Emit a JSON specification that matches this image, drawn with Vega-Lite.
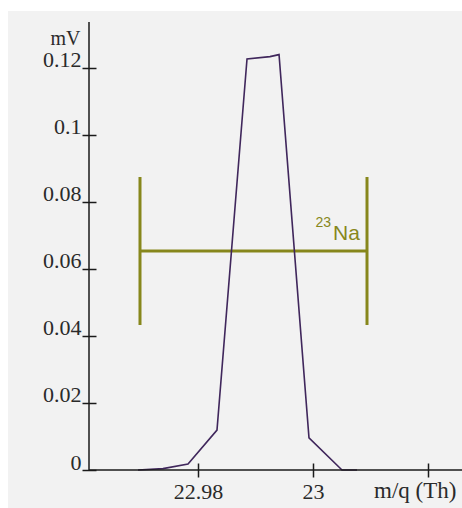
{
  "$schema": "https://vega.github.io/schema/vega-lite/v6.json",
  "width": 373,
  "height": 448,
  "autosize": "none",
  "padding": {"left": 89, "top": 22, "right": 0, "bottom": 38},
  "background": "white",
  "config": {
    "view": {"stroke": null},
    "font": "Liberation Serif"
  },
  "data": {"values": [{"panel": "frame"}]},
  "datasets": {
    "spectrum": [
      {"mq": 22.96957, "mV": 0.0000},
      {"mq": 22.97391, "mV": 0.0004},
      {"mq": 22.97826, "mV": 0.0018},
      {"mq": 22.98330, "mV": 0.0119},
      {"mq": 22.98852, "mV": 0.1227},
      {"mq": 22.99252, "mV": 0.1234},
      {"mq": 22.99409, "mV": 0.1240},
      {"mq": 22.99930, "mV": 0.0096},
      {"mq": 23.00504, "mV": 0.0000},
      {"mq": 23.00765, "mV": 0.0000}
    ],
    "window": [
      {"isotope": "23Na", "lo": 22.96991, "hi": 23.00939, "level": 0.06537, "bottom": 0.04328, "top": 0.08746}
    ]
  },
  "layer": [
    {
      "mark": {"type": "rect", "color": "#f2f2f2", "clip": false},
      "encoding": {
        "x": {"datum": 22.94695, "type": "quantitative"},
        "x2": {"datum": 23.03},
        "y": {"datum": 0.13701, "type": "quantitative"},
        "y2": {"datum": -0.02}
      }
    },
    {
      "data": {"name": "window"},
      "mark": {"type": "rule", "color": "#87871c", "strokeWidth": 3},
      "encoding": {
        "x": {"field": "lo", "type": "quantitative"},
        "x2": {"field": "hi"},
        "y": {"field": "level", "type": "quantitative"}
      }
    },
    {
      "data": {"name": "window"},
      "mark": {"type": "rule", "color": "#87871c", "strokeWidth": 3},
      "encoding": {
        "x": {"field": "lo", "type": "quantitative"},
        "y": {"field": "bottom", "type": "quantitative"},
        "y2": {"field": "top"}
      }
    },
    {
      "data": {"name": "window"},
      "mark": {"type": "rule", "color": "#87871c", "strokeWidth": 3},
      "encoding": {
        "x": {"field": "hi", "type": "quantitative"},
        "y": {"field": "bottom", "type": "quantitative"},
        "y2": {"field": "top"}
      }
    },
    {
      "data": {"name": "spectrum"},
      "mark": {"type": "line", "color": "#40275c", "strokeWidth": 1.6},
      "encoding": {
        "x": {
          "field": "mq",
          "type": "quantitative",
          "scale": {"domain": [22.96104, 23.02591], "zero": false, "nice": false},
          "axis": {
            "zindex": 2,
            "values": [22.98, 23, 23.02],
            "labelExpr": "datum.value > 23.01 ? '' : format(datum.value, '.2~f')",
            "offset": -7,
            "domain": false,
            "grid": false,
            "tickSize": 14,
            "tickWidth": 1.5,
            "tickColor": "#1a1a1a",
            "labelPadding": 21,
            "labelBaseline": "alphabetic",
            "labelFont": "Liberation Serif",
            "labelFontSize": 22,
            "labelColor": "#2a2a2a",
            "labelOverlap": false,
            "labelFlush": false,
            "title": "m/q (Th)",
            "titleFont": "Liberation Serif",
            "titleFontSize": 23,
            "titleFontWeight": "normal",
            "titleColor": "#2a2a2a",
            "titleAlign": "right",
            "titleBaseline": "alphabetic",
            "titleX": 367,
            "titleY": 34
          }
        },
        "y": {
          "field": "mV",
          "type": "quantitative",
          "scale": {"domain": [0, 0.13373], "nice": false},
          "axis": {
            "zindex": 2,
            "values": [0, 0.02, 0.04, 0.06, 0.08, 0.1, 0.12],
            "format": ".2~f",
            "offset": -7,
            "domain": false,
            "grid": false,
            "tickSize": 14,
            "tickWidth": 1.5,
            "tickColor": "#1a1a1a",
            "labelPadding": 1,
            "labelBaseline": "alphabetic",
            "labelOffset": -1,
            "labelFont": "Liberation Serif",
            "labelFontSize": 22,
            "labelColor": "#2a2a2a",
            "labelOverlap": false,
            "labelFlush": false,
            "title": "mV",
            "titleAngle": 0,
            "titleFont": "Liberation Serif",
            "titleFontSize": 20,
            "titleFontWeight": "normal",
            "titleColor": "#2a2a2a",
            "titleAlign": "right",
            "titleBaseline": "alphabetic",
            "titleX": -16,
            "titleY": 22
          }
        }
      }
    },
    {
      "mark": {"type": "rule", "color": "#1a1a1a", "strokeWidth": 1.5},
      "encoding": {
        "x": {"datum": 22.96104, "type": "quantitative"}
      }
    },
    {
      "mark": {"type": "rule", "color": "#1a1a1a", "strokeWidth": 1.5},
      "encoding": {
        "y": {"datum": 0, "type": "quantitative"}
      }
    },
    {
      "mark": {"type": "text", "text": "Na", "font": "Liberation Sans", "fontSize": 21, "color": "#87871c", "align": "left", "baseline": "alphabetic"},
      "encoding": {
        "x": {"datum": 23.00348, "type": "quantitative"},
        "y": {"datum": 0.06866, "type": "quantitative"}
      }
    },
    {
      "mark": {"type": "text", "text": "23", "font": "Liberation Sans", "fontSize": 14, "color": "#87871c", "align": "right", "baseline": "alphabetic"},
      "encoding": {
        "x": {"datum": 23.00313, "type": "quantitative"},
        "y": {"datum": 0.07254, "type": "quantitative"}
      }
    }
  ]
}
